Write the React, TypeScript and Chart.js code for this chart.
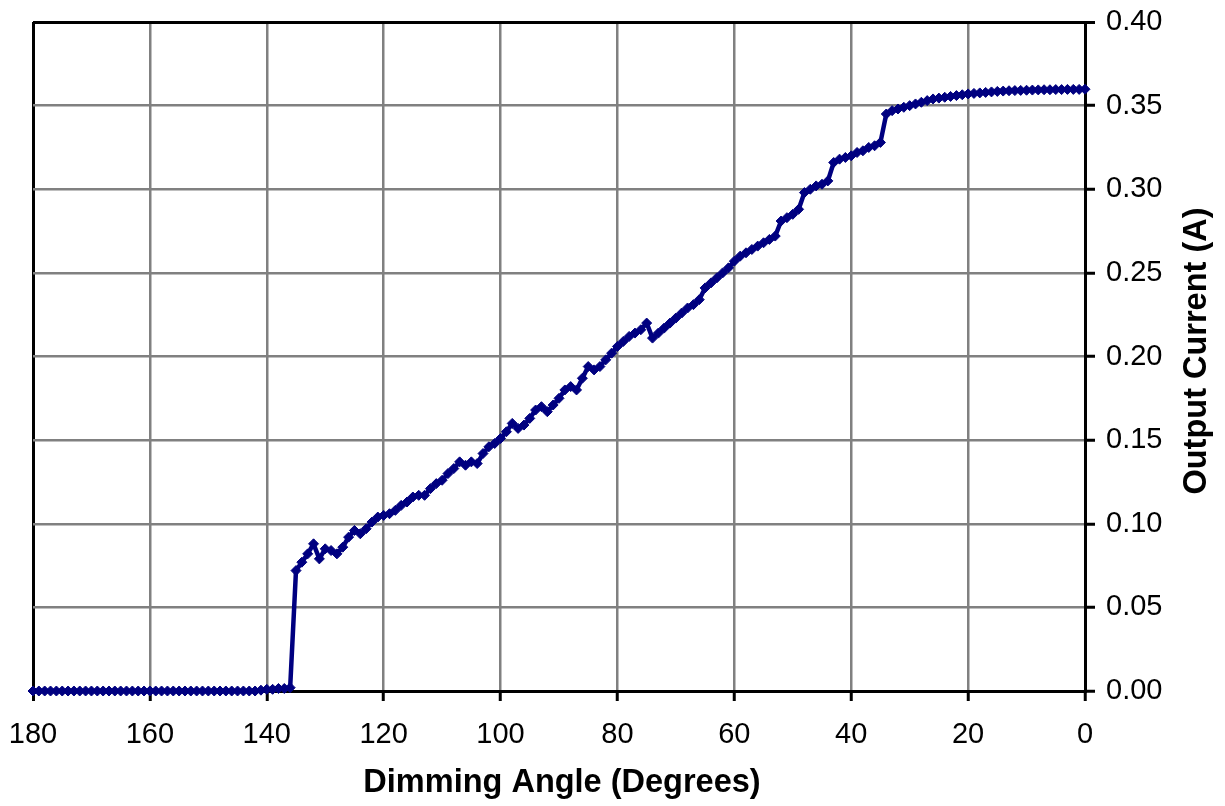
import { useEffect, useRef } from 'react';
import { Chart, registerables } from 'chart.js';

Chart.register(...registerables);

const FONT = '"Liberation Sans", Arial, Helvetica, sans-serif';

const X_TITLE = 'Dimming Angle (Degrees)';
const Y_TITLE = 'Output Current (A)';

// Dimming angle in degrees (x values), from 180 down to 0
const ANGLES = [
  180, 179, 178, 177, 176, 175, 174, 173, 172, 171,
  170, 169, 168, 167, 166, 165, 164, 163, 162, 161,
  160, 159, 158, 157, 156, 155, 154, 153, 152, 151,
  150, 149, 148, 147, 146, 145, 144, 143, 142, 141,
  140, 139, 138, 137, 136, 135, 134, 133, 132, 131,
  130, 129, 128, 127, 126, 125, 124, 123, 122, 121,
  120, 119, 118, 117, 116, 115, 114, 113, 112, 111,
  110, 109, 108, 107, 106, 105, 104, 103, 102, 101,
  100, 99, 98, 97, 96, 95, 94, 93, 92, 91,
  90, 89, 88, 87, 86, 85, 84, 83, 82, 81,
  80, 79, 78, 77, 76, 75, 74, 73, 72, 71,
  70, 69, 68, 67, 66, 65, 64, 63, 62, 61,
  60, 59, 58, 57, 56, 55, 54, 53, 52, 51,
  50, 49, 48, 47, 46, 45, 44, 43, 42, 41,
  40, 39, 38, 37, 36, 35, 34, 33, 32, 31,
  30, 29, 28, 27, 26, 25, 24, 23, 22, 21,
  20, 19, 18, 17, 16, 15, 14, 13, 12, 11,
  10, 9, 8, 7, 6, 5, 4, 3, 2, 1,
  0,
];

// Output current in amperes, same order as ANGLES
const CURRENT = [
  0, 0, 0, 0, 0, 0, 0, 0, 0, 0,
  0, 0, 0, 0, 0, 0, 0, 0, 0, 0,
  0, 0, 0, 0, 0, 0, 0, 0, 0, 0,
  0, 0, 0, 0, 0, 0, 0, 0, 0, 0.0005,
  0.001, 0.001, 0.0015, 0.0015, 0.002, 0.072, 0.077, 0.082, 0.088, 0.079,
  0.085, 0.084, 0.082, 0.086, 0.092, 0.096, 0.094, 0.097, 0.101, 0.104,
  0.105, 0.106, 0.108, 0.111, 0.113, 0.116, 0.117, 0.117, 0.121, 0.124,
  0.126, 0.13, 0.133, 0.137, 0.135, 0.137, 0.136, 0.142, 0.146, 0.148,
  0.151, 0.155, 0.16, 0.157, 0.159, 0.163, 0.168, 0.17, 0.167, 0.171,
  0.175, 0.18, 0.182, 0.18, 0.187, 0.194, 0.192, 0.194, 0.198, 0.202,
  0.206, 0.209, 0.212, 0.214, 0.216, 0.22, 0.211, 0.214, 0.217, 0.22,
  0.223, 0.226, 0.229, 0.231, 0.234, 0.241, 0.244, 0.247, 0.25, 0.253,
  0.257, 0.26, 0.262, 0.264, 0.266, 0.268, 0.27, 0.272, 0.281, 0.283,
  0.285, 0.288, 0.298, 0.3, 0.302, 0.303, 0.305, 0.316, 0.318, 0.319,
  0.32, 0.322, 0.323, 0.325, 0.326, 0.328, 0.345, 0.347, 0.348, 0.349,
  0.35, 0.351, 0.352, 0.353, 0.354, 0.3545, 0.355, 0.3555, 0.356, 0.3565,
  0.357, 0.3573, 0.3576, 0.3579, 0.3582, 0.3585, 0.3587, 0.3589, 0.359, 0.3591,
  0.3592, 0.3593, 0.3594, 0.3595, 0.3595, 0.3596, 0.3596, 0.3597, 0.3597, 0.3597,
  0.3598,
];

const X_MIN = 0;
const X_MAX = 180;
const X_STEP = 20;
const Y_MIN = 0;
const Y_MAX = 0.4;
const Y_STEP = 0.05;

export default function App() {
  const ref = useRef<HTMLCanvasElement>(null);

  useEffect(() => {
    document.body.style.margin = '0';
    const canvas = ref.current;
    if (!canvas) return;

    const titles = {
      id: 'axisTitles',
      afterDraw(chart: any) {
        const ctx = chart.ctx;
        const ca = chart.chartArea;
        ctx.save();
        ctx.fillStyle = '#000';
        ctx.font = `bold 32.5px ${FONT}`;
        ctx.textAlign = 'center';
        ctx.textBaseline = 'alphabetic';
        ctx.fillText(X_TITLE, (ca.left + ca.right) / 2 + 3, 792);
        ctx.translate(1206, 351);
        ctx.rotate(-Math.PI / 2);
        ctx.fillText(Y_TITLE, 0, 0);
        ctx.restore();
      },
    };

    const points = ANGLES.map((a, i) => ({ x: a, y: CURRENT[i] }));

    const chart = new Chart(canvas, {
      type: 'line',
      data: {
        datasets: [
          {
            data: points,
            borderColor: '#000080',
            backgroundColor: '#000080',
            borderWidth: 4.5,
            pointStyle: 'rectRot',
            pointRadius: 5,
            pointBorderWidth: 1,
            pointBackgroundColor: '#000080',
            pointBorderColor: '#000080',
            tension: 0,
            clip: false,
          } as any,
        ],
      },
      options: {
        animation: false,
        responsive: false,
        devicePixelRatio: 1,
        layout: { padding: { left: 33, top: 22, right: 0, bottom: 0 } },
        plugins: {
          legend: { display: false },
          tooltip: { enabled: false },
        },
        scales: {
          x: {
            type: 'linear',
            reverse: true,
            min: X_MIN,
            max: X_MAX,
            ticks: {
              stepSize: X_STEP,
              autoSkip: false,
              maxRotation: 0,
              padding: 17,
              color: '#000',
              font: { family: FONT, size: 29 },
            },
            grid: {
              color: (c: any) => (c.tick && c.tick.value === X_MAX ? '#000' : '#808080'),
              lineWidth: (c: any) => (c.tick && c.tick.value === X_MAX ? 3 : 2.5),
              tickColor: '#000',
              tickWidth: 3,
              tickLength: 10,
            },
            border: { display: true, color: '#000', width: 3 },
            afterFit: (s: any) => {
              s.height = 115;
              s.paddingLeft = 0;
              s.paddingRight = 0;
            },
          },
          y: {
            type: 'linear',
            position: 'right',
            min: Y_MIN,
            max: Y_MAX,
            ticks: {
              stepSize: Y_STEP,
              padding: 11,
              color: '#000',
              font: { family: FONT, size: 29 },
              callback: (v: any) => Number(v).toFixed(2),
            },
            grid: {
              color: (c: any) => (c.tick && Math.abs(c.tick.value - Y_MAX) < 1e-9 ? '#000' : '#808080'),
              lineWidth: (c: any) => (c.tick && Math.abs(c.tick.value - Y_MAX) < 1e-9 ? 3 : 2.5),
              tickColor: '#000',
              tickWidth: 3,
              tickLength: 10,
            },
            border: { display: true, color: '#000', width: 3 },
            afterFit: (s: any) => {
              s.width = 140;
              s.paddingTop = 0;
              s.paddingBottom = 0;
            },
          },
        },
      },
      plugins: [titles],
    });

    return () => chart.destroy();
  }, []);

  return (
    <div style={{ width: 1225, height: 806 }}>
      <canvas ref={ref} width={1225} height={806} style={{ display: 'block' }} />
    </div>
  );
}
